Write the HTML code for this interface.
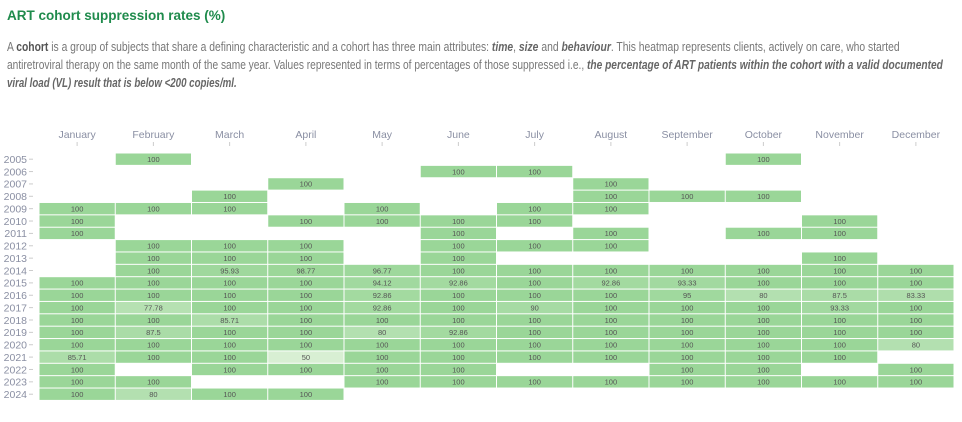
<!DOCTYPE html>
<html><head><meta charset="utf-8"><style>
body{margin:0;width:962px;height:422px;background:#fff;font-family:"Liberation Sans",sans-serif;overflow:hidden;position:relative}
.title{position:absolute;left:7px;top:8px;font-size:13.5px;font-weight:bold;color:#1f8b4c;white-space:nowrap}
.ln{position:absolute;left:7px;font-size:12.5px;color:#777;white-space:nowrap;transform-origin:0 0}
.ln b{color:#555}.ln i{color:#666;font-weight:bold}
svg{position:absolute;left:0;top:0}
</style></head><body>
<div class="title">ART cohort suppression rates (%)</div>
<div class="ln" id="l1" data-tw="893" style="top:40px">A <b>cohort</b> is a group of subjects that share a defining characteristic and a cohort has three main attributes: <i>time</i>, <i>size</i> and <i>behaviour</i>. This heatmap represents clients, actively on care, who started</div>
<div class="ln" id="l2" data-tw="936" style="top:58px">antiretroviral therapy on the same month of the same year. Values represented in terms of percentages of those suppressed i.e., <i>the percentage of ART patients within the cohort with a valid documented</i></div>
<div class="ln" id="l3" data-tw="230" style="top:76px"><i>viral load (VL) result that is below &lt;200 copies/ml.</i></div>
<svg id="chart" width="962" height="422"></svg>
<script>
document.querySelectorAll('.ln').forEach(function(e){var w=e.scrollWidth;e.style.transform='scaleX('+(+e.dataset.tw/w)+')';});
const months=["January","February","March","April","May","June","July","August","September","October","November","December"];
const years=[2005,2006,2007,2008,2009,2010,2011,2012,2013,2014,2015,2016,2017,2018,2019,2020,2021,2022,2023,2024];
const N=null;
const v2005=[N,100,N,N,N,N,N,N,N,100,N,N];
const v2006=[N,N,N,N,N,100,100,N,N,N,N,N];
const v2007=[N,N,N,100,N,N,N,100,N,N,N,N];
const v2008=[N,N,100,N,N,N,N,100,100,100,N,N];
const v2009=[100,100,100,N,100,N,100,100,N,N,N,N];
const v2010=[100,N,N,100,100,100,100,N,N,N,100,N];
const v2011=[100,N,N,N,N,100,N,100,N,100,100,N];
const v2012=[N,100,100,100,N,100,100,100,N,N,N,N];
const v2013=[N,100,100,100,N,100,N,N,N,N,100,N];
const v2014=[N,100,95.93,98.77,96.77,100,100,100,100,100,100,100];
const v2015=[100,100,100,100,94.12,92.86,100,92.86,93.33,100,100,100];
const v2016=[100,100,100,100,92.86,100,100,100,95,80,87.5,83.33];
const v2017=[100,77.78,100,100,92.86,100,90,100,100,100,93.33,100];
const v2018=[100,100,85.71,100,100,100,100,100,100,100,100,100];
const v2019=[100,87.5,100,100,80,92.86,100,100,100,100,100,100];
const v2020=[100,100,100,100,100,100,100,100,100,100,100,80];
const v2021=[85.71,100,100,50,100,100,100,100,100,100,100,N];
const v2022=[100,N,100,100,100,100,N,N,100,100,N,100];
const v2023=[100,100,N,N,100,100,100,100,100,100,100,100];
const v2024=[100,80,100,100,N,N,N,N,N,N,N,N];
const values=[v2005,v2006,v2007,v2008,v2009,v2010,v2011,v2012,v2013,v2014,v2015,v2016,v2017,v2018,v2019,v2020,v2021,v2022,v2023,v2024];
const svg=document.getElementById('chart');const NS='http://www.w3.org/2000/svg';
const X0=39,CW=76.25,Y0=153,RH=12.37;
function x(i){return X0+i*CW}function y(j){return Y0+j*RH}
function col(v){const t=Math.max(0,Math.min(1,(v-50)/50));const a=[216,239,211],b=[154,214,152];
return 'rgb('+a.map((c,k)=>Math.round(c+(b[k]-c)*t)).join(',')+')';}
function mk(tag,at){const e=document.createElementNS(NS,tag);for(const k in at)e.setAttribute(k,at[k]);svg.appendChild(e);return e;}
months.forEach((m,i)=>{
 const t=mk('text',{x:x(i)+CW/2,y:138,'text-anchor':'middle','font-size':10.5,fill:'#8a8fa3','font-family':'Liberation Sans, sans-serif'});t.textContent=m;
 
 
 const l=mk('line',{x1:x(i)+CW/2,x2:x(i)+CW/2,y1:142,y2:146,stroke:'#ccc'});
 
 
});
years.forEach((yr,j)=>{
 const t=mk('text',{x:27,y:y(j)+RH/2+3.8,'text-anchor':'end','font-size':10.5,fill:'#8a8fa3','font-family':'Liberation Sans, sans-serif'});t.textContent=yr;
 
 
 const l=mk('line',{x1:29,x2:33,y1:y(j)+RH/2,y2:y(j)+RH/2,stroke:'#ccc'});
 
 
 values[j].forEach((v,i)=>{
  if(v===null)return;
  const r=mk('rect',{x:x(i)+0.5,y:y(j)+0.5,width:CW-1,height:RH-1,fill:col(v)});
  
  
  const tx=mk('text',{x:x(i)+CW/2,y:y(j)+RH/2+2.8,'text-anchor':'middle','font-size':7.5,fill:'#555','font-family':'Liberation Sans, sans-serif'});tx.textContent=v;
  
  
 });
});
</script>
</body></html>
